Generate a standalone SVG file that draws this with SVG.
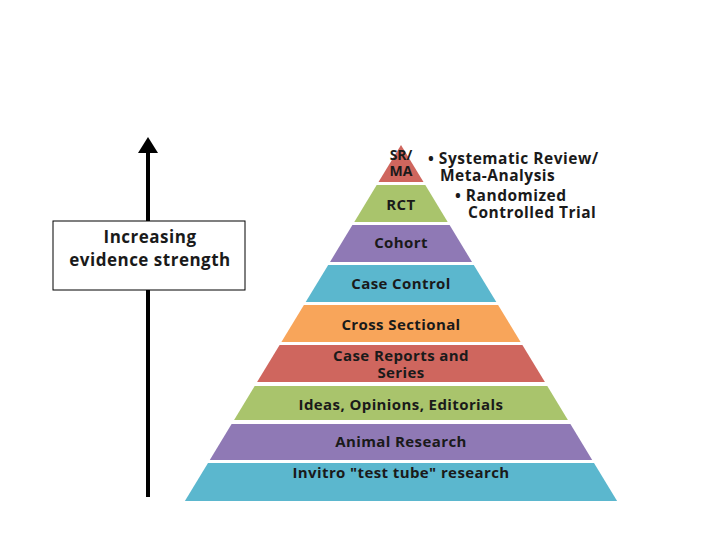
<svg xmlns="http://www.w3.org/2000/svg" width="720" height="540" viewBox="0 0 720 540">
<defs>
<style>
.t{font-family:"Open Sans","Liberation Sans",sans-serif;font-weight:bold;fill:#1a1a1a;text-anchor:middle;font-size:15px;letter-spacing:0.4px}
.s{font-size:14px;letter-spacing:0}
.b{font-family:"Open Sans","Liberation Sans",sans-serif;font-weight:bold;fill:#1a1a1a;font-size:15.5px;letter-spacing:0.5px}
.box{font-family:"Open Sans","Liberation Sans",sans-serif;font-weight:bold;fill:#1a1a1a;text-anchor:middle;font-size:17px;letter-spacing:0.5px}
.red{fill:#CF665E}.green{fill:#A9C46C}.purple{fill:#8F79B5}.blue{fill:#5BB7CE}.orange{fill:#F8A55A}
</style>
</defs>
<rect width="720" height="540" fill="#fff"/>
<g id="connectors">
<line x1="148" y1="497" x2="148" y2="150" stroke="#000" stroke-width="4"/>
<polygon points="148,137 158,153 138,153" fill="#000"/>
</g>
<g id="label-box">
<rect x="53" y="221" width="192" height="69" fill="#fff" stroke="#000" stroke-width="1"/>
<text class="box" x="150" y="243">Increasing</text>
<text class="box" x="150" y="266">evidence strength</text>
</g>
<g id="sr-ma">
<polygon class="red" points="401,145 423.5,182 378.5,182"/>
<text class="t s" x="401" y="160">SR/</text>
<text class="t s" x="401" y="176">MA</text>
</g>
<g id="rct">
<polygon class="green" points="376.7,185 425.3,185 447.7,222 354.3,222"/>
<text class="t" x="401" y="210">RCT</text>
</g>
<g id="cohort">
<polygon class="purple" points="352.4,225 449.6,225 472,262 330,262"/>
<text class="t" x="401" y="248">Cohort</text>
</g>
<g id="case-control">
<polygon class="blue" points="328.2,265 473.8,265 496.3,302 305.7,302"/>
<text class="t" x="401" y="289">Case Control</text>
</g>
<g id="cross-sectional">
<polygon class="orange" points="303.9,305 498.1,305 520.6,342 281.4,342"/>
<text class="t" x="401" y="330">Cross Sectional</text>
</g>
<g id="case-reports">
<polygon class="red" points="279.6,345 522.4,345 544.9,382 257.1,382"/>
<text class="t" x="401" y="361">Case Reports and</text>
<text class="t" x="401" y="378">Series</text>
</g>
<g id="ideas">
<polygon class="green" points="254.7,386 547.3,386 567.9,420 234.1,420"/>
<text class="t" x="401" y="410">Ideas, Opinions, Editorials</text>
</g>
<g id="animal">
<polygon class="purple" points="231.6,424 570.4,424 592.2,460 209.8,460"/>
<text class="t" x="401" y="447">Animal Research</text>
</g>
<g id="invitro">
<polygon class="blue" points="208,463 594,463 617.1,501 184.9,501"/>
<text class="t" x="401" y="478">Invitro "test tube" research</text>
</g>
<g id="legend">
<text class="b" x="428" y="164">• Systematic Review/</text>
<text class="b" x="440" y="181">Meta-Analysis</text>
<text class="b" x="455" y="201">• Randomized</text>
<text class="b" x="468" y="218">Controlled Trial</text>
</g>
</svg>
